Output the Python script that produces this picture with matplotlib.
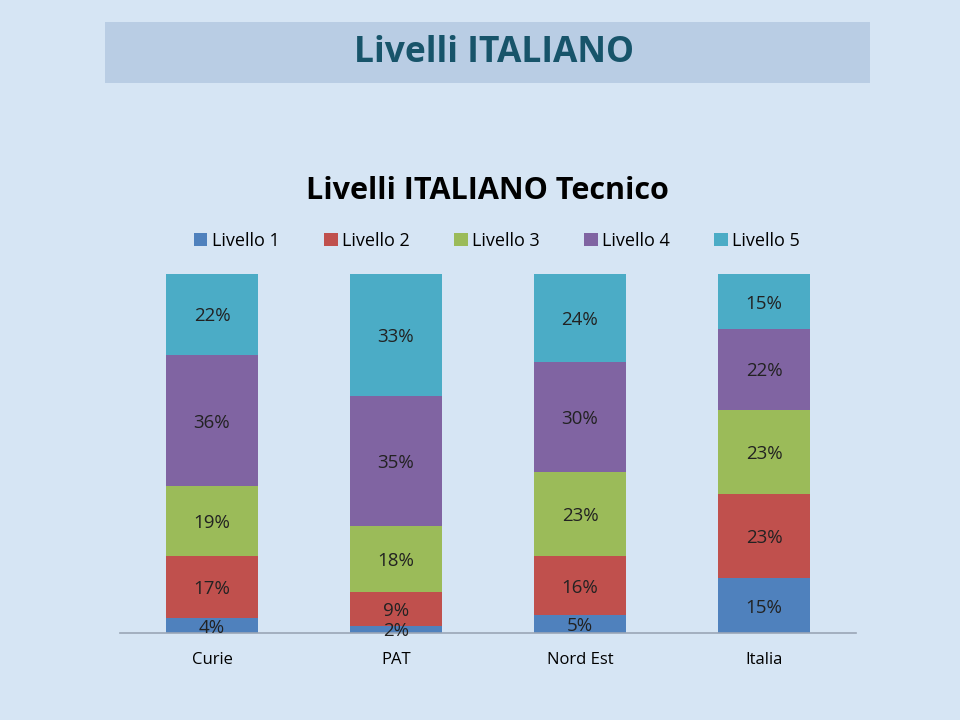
import matplotlib.pyplot as plt
import numpy as np
from matplotlib.patches import Rectangle

plt.rcParams["font.family"] = ["Open Sans", "DejaVu Sans"]

categories = ["Curie", "PAT", "Nord Est", "Italia"]
levels = ["Livello 1", "Livello 2", "Livello 3", "Livello 4", "Livello 5"]
livello_1 = [4, 2, 5, 15]
livello_2 = [17, 9, 16, 23]
livello_3 = [19, 18, 23, 23]
livello_4 = [36, 35, 30, 22]
livello_5 = [22, 33, 24, 15]
colors = ["#4f81bd", "#c0504d", "#9bbb59", "#8064a2", "#4bacc6"]


def main():
    series = np.array([livello_1, livello_2, livello_3, livello_4, livello_5], dtype=float)
    shares = series / series.sum(axis=0)

    fig = plt.figure(figsize=(9.6, 7.2), dpi=100)
    fig.patch.set_facecolor("#d6e5f4")

    # slide header box
    fig.patches.append(Rectangle((105 / 960, 1 - 83 / 720), 765 / 960, 61 / 720,
                                 transform=fig.transFigure, facecolor="#b9cde4",
                                 edgecolor="none", zorder=0))
    fig.text(494 / 960, 1 - 53 / 720, "Livelli ITALIANO", ha="center", va="center",
             fontsize=25.5, fontweight="bold", color="#17546a")

    fig.text(487 / 960, 1 - 191 / 720, "Livelli ITALIANO Tecnico", ha="center",
             va="center", fontsize=22, fontweight="bold", color="black")

    ax = fig.add_axes([120 / 960, 1 - 633 / 720, 736 / 960, 359 / 720])
    ax.set_facecolor("none")
    x = np.arange(len(categories))
    bottom = np.zeros(len(categories))
    for i, level in enumerate(levels):
        bars = ax.bar(x, shares[i], 0.505, bottom=bottom, color=colors[i], label=level)
        for j, rect in enumerate(bars):
            ax.text(rect.get_x() + rect.get_width() / 2, bottom[j] + shares[i][j] / 2 - 0.006,
                    f"{int(series[i][j])}%", ha="center", va="center",
                    fontsize=13.5, color="#222222")
        bottom += shares[i]

    ax.set_xlim(-0.5, 3.5)
    ax.set_ylim(0, 1)
    ax.set_yticks([])
    ax.set_xticks(x)
    ax.set_xticklabels(categories, fontsize=12)
    ax.tick_params(axis="x", length=0, pad=14)
    for side in ["left", "right", "top"]:
        ax.spines[side].set_visible(False)
    ax.spines["bottom"].set_color("#9aa6b6")
    ax.spines["bottom"].set_linewidth(1.2)

    fig.legend(loc="center", bbox_to_anchor=(497 / 960, 1 - 241 / 720), ncol=5,
               frameon=False, fontsize=13, handlelength=0.75, handleheight=0.75,
               handletextpad=0.25, columnspacing=2.45)

    fig.savefig("out.png", dpi=100, facecolor=fig.get_facecolor())
    plt.close(fig)


if __name__ == "__main__":
    main()
